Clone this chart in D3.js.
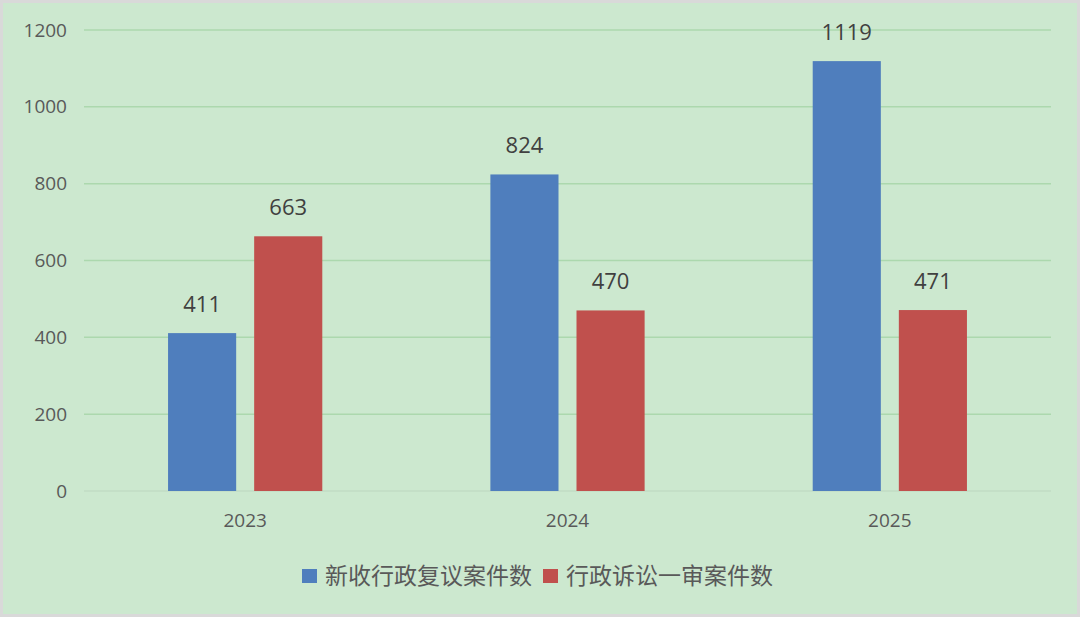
<!DOCTYPE html>
<html><head><meta charset="utf-8">
<script src="https://cdn.jsdelivr.net/npm/d3@7/dist/d3.min.js"></script>
<style>html,body{margin:0;padding:0;background:#d9d9d9;}svg{display:block;}</style>
</head><body>
<svg id="c" width="1080" height="617"></svg>
<script>
const years = ["2023", "2024", "2025"];
const seriesNames = ["新收行政复议案件数", "行政诉讼一审案件数"];
const reviewCases = [411, 824, 1119];
const litigationCases = [663, 470, 471];
const yTicks = [0, 200, 400, 600, 800, 1000, 1200];
const colors = ["#4f7ebd", "#c0504d"];

(function () {
const svg = d3.select("#c");
svg.append("rect").attr("x", 3).attr("y", 3).attr("width", 1074).attr("height", 611).attr("fill", "#cce8cf");

const pLeft = 84, pRight = 1051, pTop = 30, pBottom = 491;
const y = d3.scaleLinear().domain([0, 1200]).range([pBottom, pTop]);
const x0 = d3.scaleBand().domain(years).range([pLeft, pRight]).padding(0);
const x1 = d3.scaleBand().domain(seriesNames).range([0, x0.bandwidth()]).paddingInner(0.209).paddingOuter(0.976);

const numFont = "'Open Sans', 'Noto Sans', sans-serif";
const cjkFont = "'Noto Sans CJK SC', sans-serif";

svg.append("g").selectAll("line").data(yTicks).join("line")
  .attr("x1", pLeft).attr("x2", pRight)
  .attr("y1", d => y(d)).attr("y2", d => y(d))
  .attr("stroke", d => d === 0 ? "#c2dcc4" : "#acd8ae").attr("stroke-width", 1.5);

const yAxis = d3.axisLeft(y).tickValues(yTicks).tickFormat(d3.format("d")).tickSize(0).tickPadding(17);
const gy = svg.append("g").attr("transform", `translate(${pLeft},0)`).call(yAxis);
gy.select(".domain").remove();
gy.selectAll("text").attr("font-family", numFont).attr("font-size", 19).attr("fill", "#595959");

const xAxis = d3.axisBottom(x0).tickSize(0).tickPadding(23);
const gx = svg.append("g").attr("transform", `translate(0,${pBottom})`).call(xAxis);
gx.select(".domain").remove();
gx.selectAll("text").attr("font-family", numFont).attr("font-size", 19).attr("fill", "#595959");

const data = years.map((yr, i) => ({ year: yr, values: [
  { s: seriesNames[0], v: reviewCases[i], c: colors[0] },
  { s: seriesNames[1], v: litigationCases[i], c: colors[1] }
]}));

const groups = svg.append("g").selectAll("g").data(data).join("g")
  .attr("transform", d => `translate(${x0(d.year)},0)`);
groups.selectAll("rect").data(d => d.values).join("rect")
  .attr("x", d => x1(d.s)).attr("width", x1.bandwidth())
  .attr("y", d => y(d.v)).attr("height", d => y(0) - y(d.v))
  .attr("fill", d => d.c);
groups.selectAll("text").data(d => d.values).join("text")
  .attr("x", d => x1(d.s) + x1.bandwidth() / 2)
  .attr("y", d => y(d.v) - 21)
  .attr("text-anchor", "middle")
  .attr("font-family", numFont).attr("font-size", 22).attr("fill", "#404040")
  .text(d => d.v);

const legend = svg.append("g");
const legX = [302, 543];
seriesNames.forEach((n, i) => {
  legend.append("rect").attr("x", legX[i]).attr("y", 569).attr("width", 15).attr("height", 14).attr("fill", colors[i]);
  legend.append("text").attr("x", legX[i] + 23).attr("y", 584)
    .attr("font-family", cjkFont).attr("font-size", 23).attr("fill", "#595959").text(n);
});
})();
</script>
</body></html>
